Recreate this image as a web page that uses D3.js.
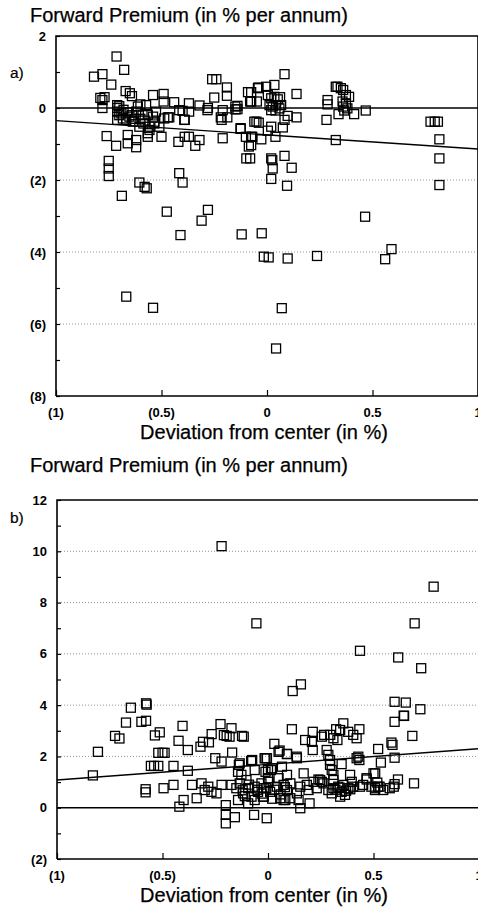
<!DOCTYPE html>
<html><head><meta charset="utf-8">
<script src="https://cdn.jsdelivr.net/npm/d3@7"></script>
<style>body{margin:0;background:#fff}svg{display:block}</style>
</head><body>
<script>
// ---------- data ----------
const devA = [-0.713,-0.82,-0.78,-0.677,-0.738,-0.67,-0.65,-0.64,-0.79,-0.78,-0.77,-0.78,-0.71,-0.71,-0.71,-0.70,-0.71,-0.683,-0.667,-0.652,-0.636,-0.62,-0.612,-0.605,-0.586,-0.573,-0.565,-0.557,-0.565,-0.54,-0.526,-0.534,-0.51,-0.487,-0.463,-0.416,-0.40,-0.369,-0.392,-0.282,-0.219,-0.215,-0.188,-0.149,-0.14,-0.54,-0.49,-0.49,-0.44,-0.37,-0.32,-0.28,-0.26,-0.24,-0.19,-0.19,-0.25,-0.21,-0.15,-0.14,-0.09,-0.08,-0.06,-0.125,-0.10,-0.086,-0.098,-0.21,-0.32,-0.34,-0.39,-0.42,-0.37,-0.50,-0.565,-0.557,-0.62,-0.62,-0.66,-0.66,-0.76,-0.715,-0.75,-0.75,-0.75,-0.605,-0.58,-0.57,-0.416,-0.40,-0.39,-0.47,-0.534,-0.688,-0.475,-0.28,-0.31,-0.41,-0.12,-0.025,-0.015,0.008,0.098,0.237,0.465,0.59,0.56,-0.667,-0.54,0.07,0.043,-0.125,-0.07,-0.043,-0.039,0.083,0.14,-0.004,0.035,-0.04,-0.075,-0.075,0.004,0.02,0.035,0.051,0.062,0.012,0.027,0.043,0.059,0.02,0.04,0.067,-0.048,-0.05,0.098,0.14,0.083,0.075,0.02,0.004,0.04,-0.027,-0.075,-0.075,0.02,0.025,0.083,0.027,0.117,0.02,0.095,-0.08,0.326,0.334,0.35,0.361,0.374,0.389,0.358,0.374,0.361,0.381,0.366,0.413,0.339,0.468,0.287,0.287,0.282,0.326,0.775,0.795,0.81,0.817,0.817,0.817,-0.69,-0.68,-0.66,-0.64,-0.63,-0.60,-0.59,-0.58,-0.70,-0.60];
const premA = [1.43,0.87,0.94,1.06,0.65,0.47,0.41,0.33,0.28,0.22,0.3,0.0,0.08,0.0,-0.1,-0.2,-0.33,-0.29,-0.33,-0.24,-0.38,-0.1,0.04,-0.52,-0.43,0.08,-0.19,-0.52,-0.7,-0.24,-0.1,-0.43,-0.52,-0.29,-0.26,-0.06,-0.08,-0.1,-0.33,-0.06,-0.26,-0.33,-0.26,-0.04,0.06,0.36,0.39,0.18,0.16,0.13,0.07,0.0,0.8,0.8,0.57,0.34,0.29,-0.06,0.04,-0.03,0.44,0.18,-0.38,-0.56,-0.8,-1.07,-1.4,-0.84,-0.89,-1.05,-0.8,-0.94,-0.8,-0.8,-0.8,-0.61,-0.89,-1.09,-0.98,-0.75,-0.78,-1.05,-1.47,-1.68,-1.89,-2.07,-2.19,-2.23,-1.81,-2.07,-0.33,-0.26,-0.38,-2.44,-2.88,-2.83,-3.13,-3.53,-3.51,-3.48,-4.13,-4.15,-4.18,-4.11,-3.02,-3.92,-4.2,-5.24,-5.55,-5.56,-6.68,-0.58,-0.8,0.55,-0.41,0.94,0.39,0.59,0.64,0.57,0.44,0.18,0.36,0.27,0.31,0.24,0.3,0.08,0.04,0.08,-0.01,-0.06,-0.07,0.08,0.18,-0.38,-0.22,-0.26,-0.33,-0.54,-0.52,-0.63,-0.8,-0.87,-0.8,-1.03,-1.4,-1.45,-1.33,-1.68,-1.66,-1.97,-2.16,-1.4,0.59,0.59,0.55,0.5,0.36,0.31,0.18,0.13,0.04,-0.01,-0.07,-0.17,-0.17,-0.07,0.22,0.1,-0.33,-0.89,-0.38,-0.38,-0.38,-0.87,-1.4,-2.14,-0.15,-0.05,-0.12,-0.2,-0.3,-0.3,-0.2,-0.35,0.05,0.1];
const fitA = [-0.35, -1.14];   // fitted line at deviation -1 and +1

const devB = [-0.22,0.785,-0.055,0.695,0.436,0.617,0.726,0.156,0.117,0.6,0.653,0.722,0.643,0.6,0.684,-0.65,-0.578,-0.575,-0.673,-0.60,-0.578,-0.725,-0.704,-0.806,-0.536,-0.513,-0.52,-0.50,-0.49,-0.405,-0.424,-0.38,-0.32,-0.308,-0.28,-0.267,-0.225,-0.209,-0.182,-0.173,-0.123,-0.115,-0.17,-0.25,-0.22,-0.555,-0.54,-0.52,-0.448,-0.38,-0.83,-0.134,-0.08,-0.016,-0.142,-0.126,-0.063,0,-0.196,-0.58,-0.58,-0.495,-0.448,-0.4,-0.42,-0.338,-0.36,-0.315,-0.3,-0.283,-0.268,-0.244,-0.22,-0.2,-0.2,-0.2,-0.157,-0.066,-0.006,-0.173,-0.15,-0.134,-0.118,-0.102,-0.094,-0.078,-0.063,-0.047,-0.031,-0.024,-0.008,0,-0.142,-0.094,-0.063,-0.138,-0.075,-0.012,0.019,0.05,0.09,0.137,0.433,0.42,0.404,0.38,0.357,0.342,0.323,0.329,0.295,0.31,0.266,0.255,0.212,0.208,0.176,0.113,0.212,0.278,0.286,0.294,0.294,0.349,0.42,0.433,0.428,0.522,0.535,0.6,0.585,0.59,0.645,0.692,0.616,0.577,0.596,0.6,0.518,0.529,0.5,0.508,0.03,0.055,0.09,0.136,-0.005,0.066,0.014,-0.012,0.09,0.169,0.239,0.255,0.31,0.31,0.389,0.397,0.468,0.508,0.003,0.042,0.05,0.074,0.09,0.106,0.137,0.153,0.184,0.192,0.216,0.231,0.247,0.263,0.286,0.31,0.333,0.349,0.357,0.365,0.381,0.404,0.436,0.451,0.467,0.49,0.507,0.522,0.546,0.058,0.074,0.106,0.145,0.153,0.197,-0.02,-0.02,0.302,0.342,0.302,0.082,-0.12,-0.09,-0.05,-0.03,0.01,0.03,0.06,0.08,-0.11,0.02,0.32,0.34,0.37,0.39];
const premB = [10.2,8.62,7.19,7.19,6.12,5.86,5.44,4.81,4.55,4.13,4.1,3.84,3.59,3.35,2.8,3.9,4.07,4.02,3.32,3.35,3.39,2.8,2.7,2.18,2.82,2.94,2.14,2.14,2.14,3.19,2.61,2.25,2.38,2.57,2.55,2.87,3.26,2.83,2.77,3.1,2.8,2.77,2.15,1.93,1.8,1.63,1.63,1.63,1.63,1.44,1.26,1.73,1.82,1.93,1.4,1.28,1.47,1.47,2.8,0.72,0.6,0.76,0.89,0.3,0.04,0.37,0.89,0.95,0.69,0.82,0.62,0.56,0.89,0.1,-0.28,-0.61,-0.37,-0.28,-0.41,0.89,0.76,0.95,0.56,1.08,0.76,0.43,0.82,0.62,0.95,0.43,0.76,1.15,0.3,0.17,0.3,1.67,1.86,1.93,1.54,2.18,2.09,1.93,3.06,2.71,2.84,2.96,3.29,3.03,3.06,2.64,2.84,2.71,2.84,2.77,2.96,2.57,2.64,3.06,2.25,2.25,2.06,1.86,1.67,1.7,1.93,1.86,1.99,2.29,1.76,1.95,2.54,2.45,3.58,0.95,1.1,0.76,0.82,0.92,0.98,0.82,1.34,0.76,2.49,2.23,2.1,1.99,1.93,1.6,1.47,1.4,1.28,1.34,1.1,1.01,1.28,1.08,1.28,1.01,1.1,1.34,1.01,0.82,1.15,0.89,0.69,0.95,0.56,0.82,0.89,0.69,1.01,0.76,1.08,0.95,0.69,0.76,0.82,0.62,0.89,0.5,0.76,0.82,0.82,0.89,1.15,0.82,0.69,0.82,0.69,0.37,0.3,0.37,0.3,-0.02,0.17,0.76,0.43,0.56,0.43,1.47,0.3,0.68,0.9,0.7,0.55,0.62,0.7,0.52,0.8,0.45,0.35,0.7,0.78,0.66,0.72];
const fitB = [1.08, 2.3];

const xTicks = [-1, -0.5, 0, 0.5, 1];
const xTickLabels = ["(1)", "(0.5)", "0", "0.5", "1"];
const yTicksA = [2, 0, -2, -4, -6, -8];
const yTickLabelsA = ["2", "0", "(2)", "(4)", "(6)", "(8)"];
const yTicksB = [12, 10, 8, 6, 4, 2, 0, -2];
const yTickLabelsB = ["12", "10", "8", "6", "4", "2", "0", "(2)"];
const gridA = [-2, -4, -6];
const gridB = [2, 4, 6, 8, 10];

const titleText = "Forward Premium (in % per annum)";
const xTitleText = "Deviation from center (in %)";

// ---------- drawing ----------
const W = 478, H = 910;
const FONT = "'Liberation Sans', Arial, Helvetica, sans-serif";
const svg = d3.select("body").append("svg").attr("width", W).attr("height", H)
  .style("font-family", FONT);

function panel(cfg) {
  const x = d3.scaleLinear().domain([-1, 1]).range([cfg.left, cfg.right]);
  const y = d3.scaleLinear().domain(cfg.yDomain).range([cfg.bottom, cfg.top]);
  const g = svg.append("g");

  // title & panel letter
  g.append("text").attr("x", 30).attr("y", cfg.titleY).attr("font-size", 20)
    .attr("stroke", "#000").attr("stroke-width", 0.25).text(titleText);
  g.append("text").attr("x", 10).attr("y", cfg.letterY).attr("font-size", 15.5)
    .attr("stroke", "#000").attr("stroke-width", 0.2).text(cfg.letter);

  // dotted gridlines
  g.selectAll(".grid").data(cfg.grid).join("line")
    .attr("x1", cfg.left + 4).attr("x2", cfg.right)
    .attr("y1", d => y(d)).attr("y2", d => y(d))
    .attr("stroke", "#777").attr("stroke-width", 0.8).attr("stroke-dasharray", "1,2");

  // y axis: minor ticks every unit, inside
  const yAxis = d3.axisLeft(y)
    .tickValues(d3.range(cfg.yDomain[0], cfg.yDomain[1] + 1, 1))
    .tickSize(-4).tickFormat("");
  g.append("g").attr("transform", `translate(${cfg.left},0)`).call(yAxis)
    .call(s => s.select(".domain").remove())
    .call(s => s.selectAll(".tick line").attr("stroke", "#000").attr("stroke-width", 1.2));
  // y labels
  g.selectAll(".ylab").data(cfg.yTicks).join("text")
    .attr("x", cfg.left - 10).attr("y", d => y(d) + 4.5)
    .attr("text-anchor", "end").attr("font-size", 13).attr("font-weight", "bold")
    .text((d, i) => cfg.yLabels[i]);

  // x axis ticks inside
  const xAxis = d3.axisBottom(x).tickValues(xTicks).tickSize(-6).tickFormat("");
  g.append("g").attr("transform", `translate(0,${cfg.bottom})`).call(xAxis)
    .call(s => s.select(".domain").remove())
    .call(s => s.selectAll(".tick line").attr("stroke", "#000").attr("stroke-width", 1.2));
  g.selectAll(".xlab").data(xTicks).join("text")
    .attr("x", d => x(d)).attr("y", cfg.bottom + 21)
    .attr("text-anchor", "middle").attr("font-size", 13).attr("font-weight", "bold")
    .text((d, i) => xTickLabels[i]);

  // frame
  g.append("path")
    .attr("d", `M${cfg.left},${cfg.bottom}V${cfg.top}H${cfg.right}V${cfg.bottom}H${cfg.left}`)
    .attr("fill", "none").attr("stroke", "#000").attr("stroke-width", 1.6);

  // zero line
  g.append("line").attr("x1", cfg.left).attr("x2", cfg.right)
    .attr("y1", y(0)).attr("y2", y(0)).attr("stroke", "#000").attr("stroke-width", 1.6);

  // fitted line
  g.append("line").attr("x1", x(-1)).attr("x2", x(1))
    .attr("y1", y(cfg.fit[0])).attr("y2", y(cfg.fit[1]))
    .attr("stroke", "#000").attr("stroke-width", 1.4);

  // points
  const s = 9;
  g.selectAll(".pt").data(cfg.xs.map((d, i) => [d, cfg.ys[i]])).join("rect")
    .attr("x", d => x(d[0]) - s / 2).attr("y", d => y(d[1]) - s / 2)
    .attr("width", s).attr("height", s)
    .attr("fill", "none").attr("stroke", "#000").attr("stroke-width", 1.3);

  // x title
  g.append("text").attr("x", 264).attr("y", cfg.xTitleY).attr("text-anchor", "middle")
    .attr("font-size", 20).attr("stroke", "#000").attr("stroke-width", 0.25).text(xTitleText);
}

panel({ left: 56, right: 478, top: 36, bottom: 396, yDomain: [-8, 2],
  yTicks: yTicksA, yLabels: yTickLabelsA, grid: gridA, fit: fitA,
  xs: devA, ys: premA, letter: "a)", titleY: 22, letterY: 78, xTitleY: 439 });

panel({ left: 57, right: 479, top: 500, bottom: 859, yDomain: [-2, 12],
  yTicks: yTicksB, yLabels: yTickLabelsB, grid: gridB, fit: fitB,
  xs: devB, ys: premB, letter: "b)", titleY: 472, letterY: 523, xTitleY: 902 });
</script>
</body></html>
